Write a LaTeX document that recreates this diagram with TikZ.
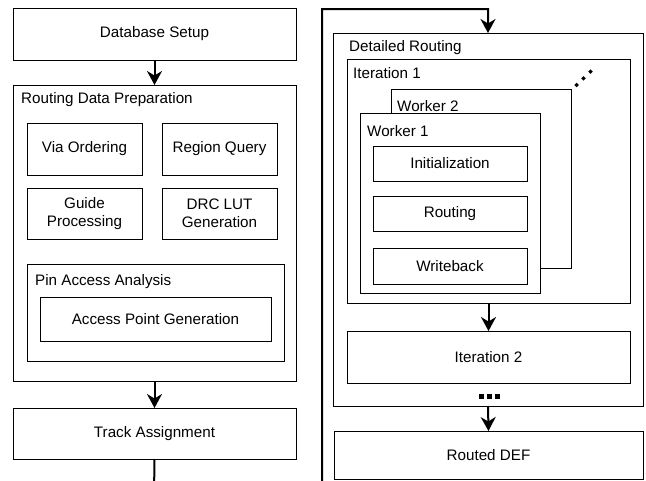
\documentclass[tikz,border=0pt]{standalone}
\usepackage{fontspec}
\setmainfont{Liberation Sans}
\usetikzlibrary{arrows.meta}

% box by its corners: name, x1, y1, x2, y2, text
\newcommand\rbox[6]{%
  \node[box, minimum width={#4pt-#2pt}, minimum height={#5pt-#3pt}] (#1) at (#2,#3) {#6};}

\begin{document}
\begin{tikzpicture}[x=1pt,y=-1pt,
  box/.style={draw, line width=1pt, fill=white, inner sep=0pt, outer sep=0pt,
    anchor=north west, align=center, font=\fontsize{15.2}{18.5}\selectfont},
  tag/.style={anchor=west, inner sep=0pt, font=\fontsize{15.2}{18}\selectfont},
  flow/.style={line width=2pt, -{Stealth[length=14pt,width=15pt,inset=4.5pt]}},
  dot/.style={fill=black},
]
\useasboundingbox (0,0) rectangle (646,480);
\clip (0,0) rectangle (646,480);

% ---------- left column ----------
\rbox{db}{13}{8}{296}{60}{Database Setup}
\rbox{rdp}{13}{85}{296}{381}{}
\node[tag] (rdpT) at (21,100) {Routing Data Preparation};
\rbox{via}{27}{123}{142}{175}{Via Ordering}
\rbox{rq}{162}{123}{277}{175}{Region Query}
\rbox{gp}{27}{188}{142}{239}{Guide\\Processing}
\rbox{drc}{162}{188}{277}{239}{DRC LUT\\Generation}
\rbox{pa}{27}{264}{284}{361}{}
\node[tag] (paT) at (35,282) {Pin Access Analysis};
\rbox{apg}{40}{297}{271}{341}{Access Point Generation}
\rbox{ta}{13}{408}{296}{459}{Track Assignment}

% ---------- right column ----------
\rbox{dr}{333}{33}{643}{406}{}
\node[tag] (drT) at (349,48) {Detailed Routing};
\rbox{it1}{347}{59}{630}{303}{}
\node[tag] (it1T) at (353,73) {Iteration 1};
\rbox{w2}{391}{89}{571}{268}{}
\node[tag] (w2T) at (397,106) {Worker 2};
\rbox{w1}{360}{113}{540}{293}{}
\node[tag] (w1T) at (367,131) {Worker 1};
\rbox{init}{373}{146}{527}{181}{Initialization}
\rbox{rt}{373}{196}{527}{231}{Routing}
\rbox{wb}{373}{248}{527}{284}{Writeback}
\rbox{it2}{347}{331}{630}{383}{Iteration 2}
\rbox{def}{334}{431}{643}{479}{Routed DEF}

% more workers
\foreach \px/\py in {576.7/85, 583.5/78.3, 590.5/71.7}
  \fill[dot, rotate around={45:(\px,\py)}] (\px-1.6,\py-1.6) rectangle (\px+1.6,\py+1.6);
% more iterations
\foreach \px in {481.5, 489.2, 497.5}
  \fill[dot] (\px-2.5,394) rectangle (\px+2.5,398.5);

% ---------- connectors ----------
\coordinate (low) at (154,495);
\coordinate (bend) at (322,9);
\draw[flow] (db.south) -- (rdp.north);
\draw[flow] (rdp.south) -- (ta.north);
\draw[flow] (ta.south) -- (low) -| (bend) -| (dr.north);
\draw[flow] (it1.south) -- (it2.north);
\draw[flow] (dr.south) -- (def.north);
\end{tikzpicture}
\end{document}
